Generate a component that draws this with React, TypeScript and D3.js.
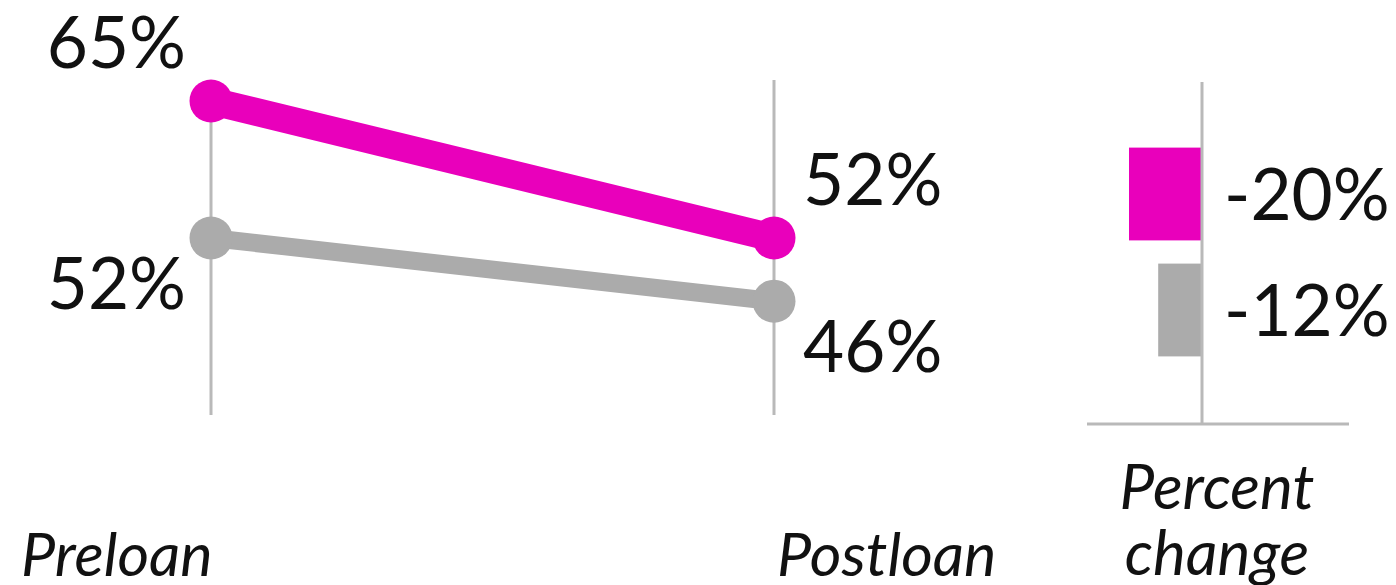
import React from "react";
import * as d3 from "d3";

const periods = ["Preloan", "Postloan"];
const seriesNames = ["Highlighted", "Comparison"];
const highlightedValues = [65, 52];
const comparisonValues = [52, 46];
const percentChange = [-20, -12];
const changeLabels = ["-20%", "-12%"];

const MAGENTA = "#e900bb";
const GRAY = "#ababab";
const AXIS = "#b9b9b9";
const FONT = "Lato, 'Noto Sans', sans-serif";

export default function App() {
  const W = 1396;
  const H = 585;
  const x = d3.scalePoint<string>().domain(periods).range([211, 774]);
  const y = d3.scaleLinear().domain([52, 65]).range([238, 101]);
  const yBand = d3
    .scaleBand<string>()
    .domain(seriesNames)
    .range([136, 368])
    .paddingInner(0.2)
    .paddingOuter(0.1);
  const xBar = d3.scaleLinear().domain([0, 20]).range([0, 73]);
  const barAxisX = 1202;

  const series = [
    { name: seriesNames[0], values: highlightedValues, color: MAGENTA, width: 28, labelPos: "above" },
    { name: seriesNames[1], values: comparisonValues, color: GRAY, width: 18, labelPos: "below" },
  ];

  const line = d3
    .line<number>()
    .x((_, i) => x(periods[i]) as number)
    .y((d) => y(d));

  const axisBottom = y(35.2);

  return (
    <svg
      width={W}
      height={H}
      style={{ position: "absolute", left: 0, top: 0, background: "#fff" }}
      fontFamily={FONT}
    >
      {/* vertical period axes */}
      <line x1={x("Preloan")} x2={x("Preloan")} y1={y(65)} y2={axisBottom} stroke={AXIS} strokeWidth={3} />
      <line x1={x("Postloan")} x2={x("Postloan")} y1={80} y2={axisBottom} stroke={AXIS} strokeWidth={3} />

      {/* slope lines (gray first so magenta on top) */}
      {[...series].reverse().map((s) => (
        <g key={s.name}>
          <path d={line(s.values) as string} fill="none" stroke={s.color} strokeWidth={s.width} />
          {s.values.map((v, i) => (
            <circle key={i} cx={x(periods[i])} cy={y(v)} r={21.5} fill={s.color} />
          ))}
        </g>
      ))}

      {/* value labels */}
      {series.map((s) =>
        s.values.map((v, i) => {
          const px = x(periods[i]) as number;
          const py = y(v) + (s.labelPos === "above" ? -33 : 71);
          return (
            <text
              key={s.name + i}
              x={i === 0 ? px - 25 : px + 29}
              y={py}
              fontSize={71}
              textAnchor={i === 0 ? "end" : "start"}
              fill="#111"
            >
              {v}%
            </text>
          );
        })
      )}

      {/* period labels */}
      {periods.map((p, i) => (
        <text
          key={p}
          x={i === 0 ? 21 : 777}
          y={576}
          fontSize={61}
          fontStyle="italic"
          fill="#111"
        >
          {p}
        </text>
      ))}

      {/* percent change bars */}
      {seriesNames.map((n, i) => (
        <rect
          key={n}
          x={barAxisX - xBar(Math.abs(percentChange[i]))}
          y={yBand(n)}
          width={xBar(Math.abs(percentChange[i]))}
          height={yBand.bandwidth()}
          fill={series[i].color}
        />
      ))}
      <line x1={barAxisX} x2={barAxisX} y1={82} y2={424} stroke={AXIS} strokeWidth={3} />
      <line x1={1087} x2={1349} y1={424} y2={424} stroke={AXIS} strokeWidth={3} />
      {seriesNames.map((n, i) => (
        <text
          key={n}
          x={1224}
          y={(yBand(n) as number) + yBand.bandwidth() / 2 + 26}
          fontSize={71}
          fill="#111"
        >
          {changeLabels[i]}
        </text>
      ))}
      <text x={1217} y={509} fontSize={62} fontStyle="italic" textAnchor="middle" fill="#111">
        Percent
      </text>
      <text x={1217} y={575} fontSize={62} fontStyle="italic" textAnchor="middle" fill="#111">
        change
      </text>
    </svg>
  );
}
